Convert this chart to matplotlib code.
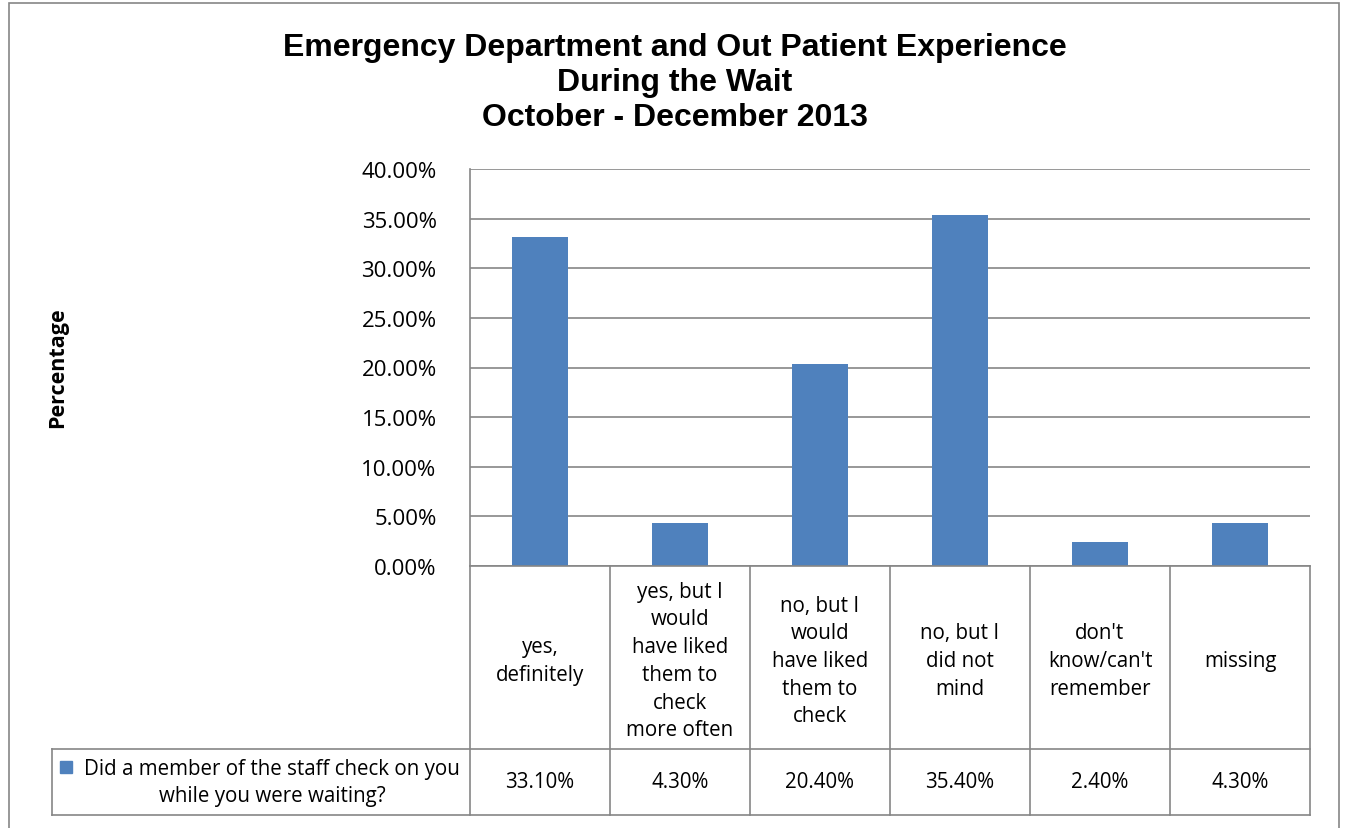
import matplotlib.pyplot as plt
from matplotlib.lines import Line2D
from matplotlib.patches import Rectangle
from matplotlib.ticker import FuncFormatter

categories = ["yes,\ndefinitely",
              "yes, but I\nwould\nhave liked\nthem to\ncheck\nmore often",
              "no, but I\nwould\nhave liked\nthem to\ncheck",
              "no, but I\ndid not\nmind",
              "don't\nknow/can't\nremember",
              "missing"]
values = [33.10, 4.30, 20.40, 35.40, 2.40, 4.30]
series_name = "Did a member of the staff check on you\nwhile you were waiting?"
title = "Emergency Department and Out Patient Experience\nDuring the Wait\nOctober - December 2013"

W, H = 1347, 829
fig = plt.figure(figsize=(W / 100, H / 100), dpi=100)
body = ["Open Sans", "DejaVu Sans"]
grid_c = "#868686"
bar_c = "#4F81BD"

# plot area in pixels
x0, x1, ytop, ybot = 470, 1310, 170, 567
ax = fig.add_axes([x0 / W, 1 - ybot / H, (x1 - x0) / W, (ybot - ytop) / H])
n = len(values)
ax.bar(range(n), values, width=0.4, color=bar_c, zorder=3)
ax.set_xlim(-0.5, n - 0.5)
ax.set_ylim(0, 40)
ax.set_yticks(range(0, 41, 5))
ax.yaxis.set_major_formatter(FuncFormatter(lambda v, p: f"{v:.2f}%"))
ax.grid(axis="y", color=grid_c, linewidth=1.2, zorder=0)
ax.set_xticks([])
ax.tick_params(axis="y", length=0, pad=24, labelsize=16, labelcolor="black")
for lab in ax.get_yticklabels():
    lab.set_family(body)
for s in ["top", "right", "bottom"]:
    ax.spines[s].set_visible(False)
ax.spines["left"].set_color(grid_c)
ax.spines["left"].set_linewidth(1.2)

# data table below the plot
row1 = 750
row2 = 816
def fy(py):
    return 1 - py / H
def fx(px):
    return px / W
def hline(xa, xb, py):
    fig.add_artist(Line2D([fx(xa), fx(xb)], [fy(py), fy(py)], color=grid_c, lw=1.2))
def vline(px, ya, yb):
    fig.add_artist(Line2D([fx(px), fx(px)], [fy(ya), fy(yb)], color=grid_c, lw=1.2))

colw = (x1 - x0) / n
hline(x0, x1, ybot)
hline(52, x1, row1)
hline(52, x1, row2)
vline(x0, ybot, row2)
vline(52, row1, row2)
for i in range(1, n + 1):
    vline(x0 + i * colw, ybot, row2)
for i, (c, v) in enumerate(zip(categories, values)):
    cx = x0 + (i + 0.5) * colw
    fig.text(fx(cx), fy((ybot + row1) / 2 + 3), c, ha="center", va="center",
             fontsize=14.8, family=body, linespacing=1.42)
    fig.text(fx(cx), fy((row1 + row2) / 2), f"{v:.2f}%", ha="center", va="center",
             fontsize=14.8, family=body)

# legend key in table
fig.add_artist(Rectangle((fx(60), fy(774)), 12 / W, 12 / H, color=bar_c))
fig.text(fx(272), fy((row1 + row2) / 2), series_name, ha="center", va="center",
         fontsize=14.8, family=body, linespacing=1.35)

# titles
fig.text(fx(675), fy(83), title, ha="center", va="center", fontsize=23,
         fontweight="bold", family="Liberation Sans", linespacing=1.2)
fig.text(fx(58), fy(368), "Percentage", rotation=90, ha="center", va="center",
         fontsize=15.5, fontweight="bold", family=body)

# outer chart border
fig.add_artist(Rectangle((fx(9), fy(835)), (1339 - 9) / W, (835 - 4) / H,
                         fill=False, edgecolor=grid_c, lw=1.2))

fig.savefig("out.png", dpi=100)
